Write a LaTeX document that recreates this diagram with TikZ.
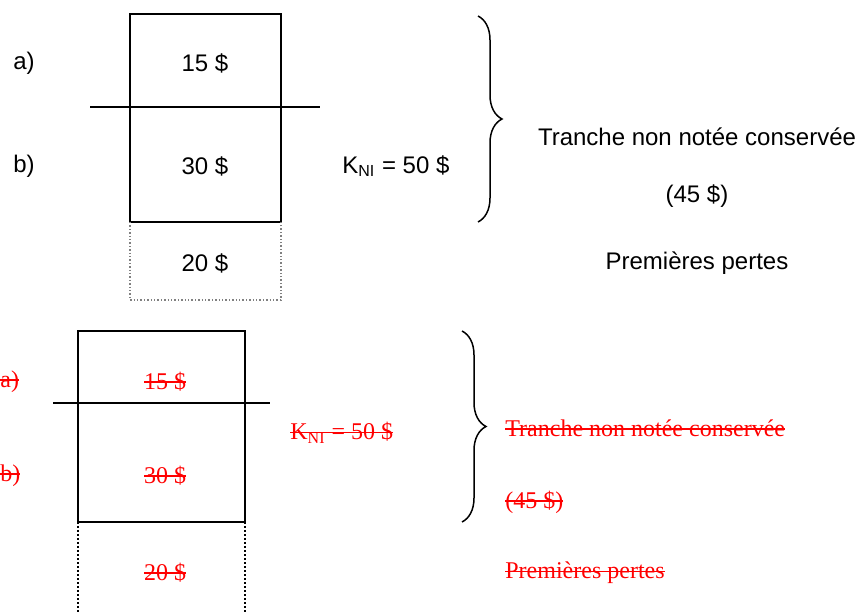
\documentclass[tikz,border=0pt]{standalone}
\usepackage{fontspec}
\setmainfont{Liberation Sans}
\newfontfamily\timesfont{Liberation Serif}
\usepackage{tikz}
\usetikzlibrary{positioning,decorations.pathreplacing}
\newlength\barrew
\newcommand{\barre}[1]{\settowidth{\barrew}{#1}\rlap{#1}\rule[0.27em]{\barrew}{0.9pt}}

\begin{document}
\begin{tikzpicture}[x=0.5pt,y=-0.5pt,
    haut/.style={font=\fontsize{12}{14}\selectfont, inner sep=0pt},
    bas/.style={font=\fontsize{12}{14}\selectfont\timesfont, text=red, inner sep=0pt},
    plein/.style={line width=1pt},
    pointille/.style={densely dotted, line width=0.7pt},
    accolade/.style={decorate, decoration={brace, amplitude=12pt}, line width=0.75pt}]
\useasboundingbox (0,0) rectangle (857,614);

% premier schema
\draw[plein] (130,14) rectangle (281,222);
\draw[plein] (90,107) -- (320,107);
\draw[pointille, gray] (130,222) -- (130,300) -- (281,300) -- (281,222);
\node[haut, anchor=west] (a1) at (13,63) {a)};
\node[haut] (quinze1) at (205,63) {15 \$};
\node[haut, anchor=west] (b1) at (13,166) {b)};
\node[haut] (trente1) at (205,166) {30 \$};
\node[haut] (vingt1) at (205,263) {20 \$};
\node[haut, anchor=west] (kni1) at (342,166) {K\textsubscript{NI} = 50 \$};
\draw[accolade] (478,16) -- (478,222);
\node[haut] (tranche1) at (697,137) {Tranche non notée conservée};
\node[haut] (montant1) at (697,196) {(45 \$)};
\node[haut] (pertes1) at (697,263) {Premières pertes};

% second schema
\draw[plein] (78,331) rectangle (245,522);
\draw[plein] (53,403) -- (270,403);
\draw[pointille, line width=1pt] (78,522) -- (78,614);
\draw[pointille, line width=1pt] (245,522) -- (245,614);
\node[bas, anchor=west] (a2) at (0,382) {\barre{a)}};
\node[bas] (quinze2) at (165,382) {\barre{15 \$}};
\node[bas, anchor=west] (b2) at (0,476) {\barre{b)}};
\node[bas] (trente2) at (165,476) {\barre{30 \$}};
\node[bas] (vingt2) at (165,573) {\barre{20 \$}};
\node[bas, anchor=west] (kni2) at (290,433) {\barre{K\textsubscript{NI} = 50 \$}};
\draw[accolade] (462,331) -- (462,522);
\node[bas, anchor=west] (tranche2) at (505,428) {\barre{Tranche non notée conservée}};
\node[bas, anchor=west] (montant2) at (505,502) {\barre{(45 \$)}};
\node[bas, anchor=west] (pertes2) at (505,573) {\barre{Premières pertes}};
\end{tikzpicture}
\end{document}
